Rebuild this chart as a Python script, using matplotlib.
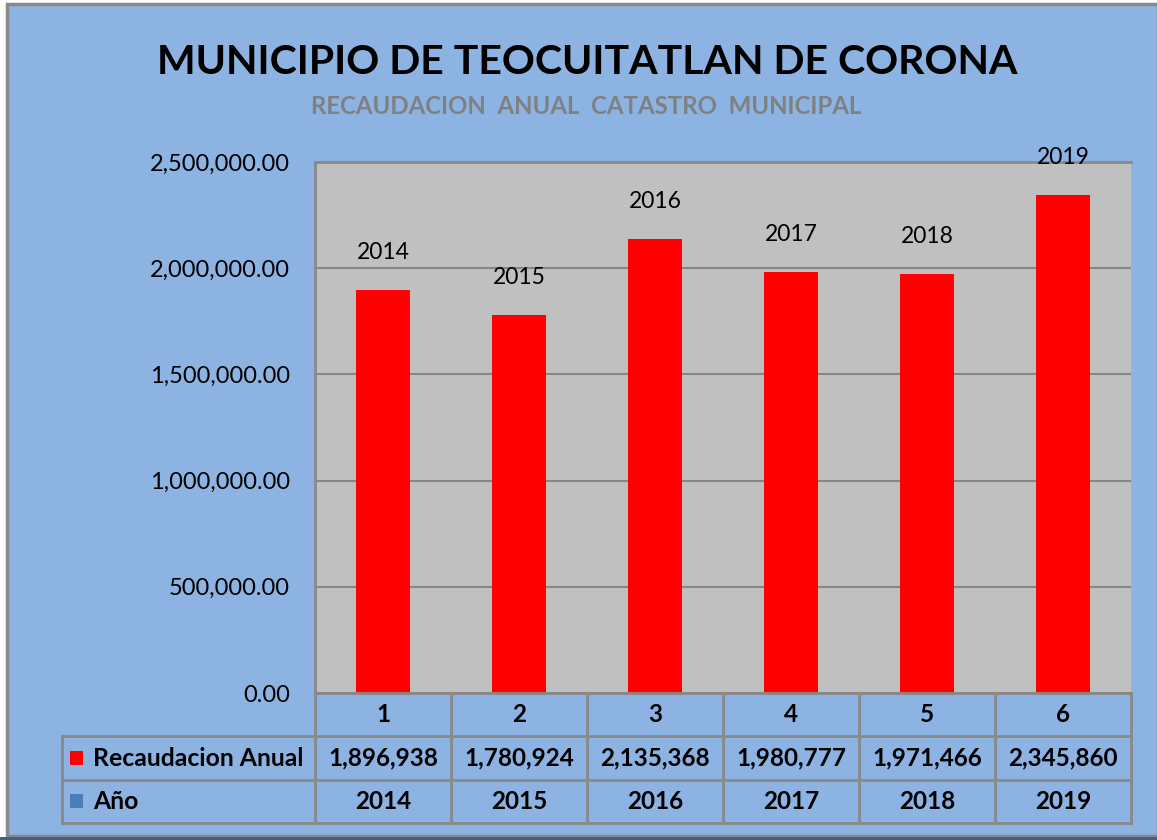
import matplotlib
matplotlib.use("Agg")
import matplotlib.pyplot as plt
from matplotlib.patches import Rectangle
from matplotlib.ticker import FuncFormatter

plt.rcParams['font.family'] = ['Lato', 'DejaVu Sans']

# data
categorias = ["1", "2", "3", "4", "5", "6"]
recaudacion = [1896938, 1780924, 2135368, 1980777, 1971466, 2345860]
anios = ["2014", "2015", "2016", "2017", "2018", "2019"]

titulo = "MUNICIPIO DE TEOCUITATLAN DE CORONA"
subtitulo = "RECAUDACION  ANUAL  CATASTRO  MUNICIPAL"
serie1 = "Recaudacion Anual"
serie2 = "Año"

fondo = "#8DB3E2"
gris_plot = "#C0C0C0"
borde = "#898989"

W, H = 1157, 840
fig = plt.figure(figsize=(W / 100, H / 100), dpi=100, facecolor="white")


def px_box(x0, y0, x1, y1):
    # pixel box (top-left origin) -> figure fraction rect
    return [x0 / W, 1 - y1 / H, (x1 - x0) / W, (y1 - y0) / H]


# chart area background + frame
fig.patches.append(Rectangle((7 / W, 1 - 836 / H), (W - 6) / W, (836 - 4) / H,
                             transform=fig.transFigure, facecolor=fondo,
                             edgecolor=borde, lw=2.5, zorder=-10))
fig.patches.append(Rectangle((0, 0), 1, 3 / H, transform=fig.transFigure,
                             facecolor="#3F5F8C", edgecolor="none", zorder=-10))

fig.text(587 / W, 1 - 62 / H, titulo, ha="center", va="center",
         fontsize=29.5, fontweight="bold", color="black")
fig.text(586 / W, 1 - 106 / H, subtitulo, ha="center", va="center",
         fontsize=17.3, fontweight="bold", color="#808080")

# main plot
ax = fig.add_axes(px_box(315, 162, 1131, 693))
ax.set_facecolor(gris_plot)
x = list(range(len(categorias)))
bars = ax.bar(x, recaudacion, width=0.4, color="#FF0000", zorder=3)
ax.set_xlim(-0.5, len(categorias) - 0.5)
ax.set_ylim(0, 2500000)
ax.set_yticks([0, 500000, 1000000, 1500000, 2000000, 2500000])
ax.yaxis.set_major_formatter(FuncFormatter(lambda v, p: "{:,.2f}".format(v)))
ax.tick_params(axis="y", length=0, pad=18, labelsize=17)
ax.set_xticks([])
ax.grid(axis="y", color="#868686", lw=1.5, zorder=1)
for s in ["left", "top", "right", "bottom"]:
    ax.spines[s].set_color(borde)
    ax.spines[s].set_linewidth(2)
ax.spines["right"].set_visible(False)

for b, lab in zip(bars, anios):
    ax.annotate(lab, (b.get_x() + b.get_width() / 2, b.get_height()),
                xytext=(0, 27), textcoords="offset points",
                ha="center", va="center", fontsize=16.5, annotation_clip=False)

# data table underneath
tab = fig.add_axes(px_box(315, 693, 1131, 823))
tab.set_xlim(-0.5, len(categorias) - 0.5)
tab.set_ylim(3, 0)
tab.axis("off")
left = -0.5 - (315 - 62) / 136.0
right = len(categorias) - 0.5
lk = dict(color=borde, lw=2, clip_on=False)
for r in [0, 1, 2, 3]:
    tab.plot([left if r > 0 else -0.5, right], [r, r], **lk)
for c in range(len(categorias) + 1):
    tab.plot([c - 0.5, c - 0.5], [0, 3], **lk)
tab.plot([left, left], [1, 3], **lk)

tk = dict(ha="center", va="center", fontsize=17.5, fontweight="bold")
for i in x:
    tab.text(i, 0.5, categorias[i], **tk)
    tab.text(i, 1.5, "{:,}".format(recaudacion[i]), **tk)
    tab.text(i, 2.5, anios[i], **tk)

kx = left + 8 / 136.0
tab.add_patch(Rectangle((kx, 1.5 - 0.16), 13 / 136.0, 0.32, facecolor="#FF0000",
                        edgecolor="none", clip_on=False))
tab.add_patch(Rectangle((kx, 2.5 - 0.16), 13 / 136.0, 0.32, facecolor="#4A7EBB",
                        edgecolor="none", clip_on=False))
tab.text(kx + 23 / 136.0, 1.5, serie1, ha="left", va="center", fontsize=17.8,
         fontweight="bold")
tab.text(kx + 23 / 136.0, 2.5, serie2, ha="left", va="center", fontsize=17.8,
         fontweight="bold")

fig.savefig("out.png", dpi=100, facecolor=fig.get_facecolor())
